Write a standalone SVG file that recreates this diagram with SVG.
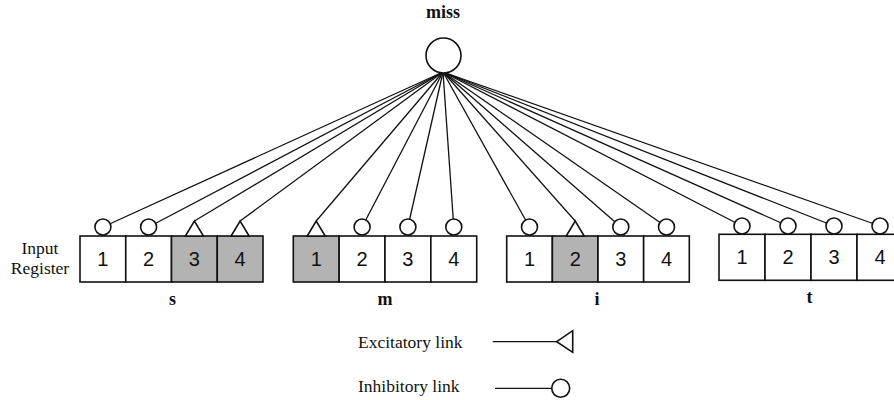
<svg xmlns="http://www.w3.org/2000/svg" width="894" height="400" viewBox="0 0 894 400">
<style>
.bg{fill:#fff}
.cell{fill:#fff;stroke:#111;stroke-width:1.6}
.on{fill:#b3b3b3}
.num{font-family:"Liberation Sans",Arial,sans-serif;font-size:20px;fill:#111;text-anchor:middle}
.lbl{font-family:"Liberation Serif","Times New Roman",serif;font-size:18px;font-weight:bold;fill:#111;text-anchor:middle}
.txt{font-family:"Liberation Serif","Times New Roman",serif;font-size:17.5px;fill:#111}
.ln{stroke:#111;stroke-width:1.3;fill:none}
.inh{fill:#fff;stroke:#111;stroke-width:1.6}
.exc{fill:#fff;stroke:#111;stroke-width:1.6;stroke-linejoin:miter}
</style>
<rect class="bg" x="0" y="0" width="894" height="400"/>

<g id="connectors">
  <line class="ln" x1="443" y1="72" x2="102.9" y2="227"/>
  <line class="ln" x1="443" y1="72" x2="148.6" y2="227"/>
  <line class="ln" x1="443" y1="72" x2="194.4" y2="221"/>
  <line class="ln" x1="443" y1="72" x2="240.1" y2="221"/>
  <line class="ln" x1="443" y1="72" x2="316.2" y2="221"/>
  <line class="ln" x1="443" y1="72" x2="362.1" y2="227"/>
  <line class="ln" x1="443" y1="72" x2="407.9" y2="227"/>
  <line class="ln" x1="443" y1="72" x2="453.8" y2="227"/>
  <line class="ln" x1="443" y1="72" x2="529.5" y2="227"/>
  <line class="ln" x1="443" y1="72" x2="575.2" y2="221"/>
  <line class="ln" x1="443" y1="72" x2="620.8" y2="227"/>
  <line class="ln" x1="443" y1="72" x2="666.5" y2="227"/>
  <line class="ln" x1="443" y1="72" x2="742" y2="226"/>
  <line class="ln" x1="443" y1="72" x2="788" y2="226"/>
  <line class="ln" x1="443" y1="72" x2="834" y2="226"/>
  <line class="ln" x1="443" y1="72" x2="880" y2="226"/>
</g>

<g id="node-miss">
  <text class="lbl" x="443" y="18">miss</text>
  <ellipse cx="443.5" cy="55.5" rx="17.5" ry="17.5" fill="#fff" stroke="#111" stroke-width="1.6"/>
</g>

<g id="input-register-label">
  <text class="txt" x="40" y="254" text-anchor="middle" font-size="18">Input</text>
  <text class="txt" x="40" y="274" text-anchor="middle" font-size="18">Register</text>
</g>

<g id="register-s">
  <rect class="cell" x="80" y="236" width="45.75" height="46"/>
  <rect class="cell" x="125.75" y="236" width="45.75" height="46"/>
  <rect class="cell on" x="171.5" y="236" width="45.75" height="46"/>
  <rect class="cell on" x="217.25" y="236" width="45.75" height="46"/>
  <text class="num" x="102.9" y="266">1</text>
  <text class="num" x="148.6" y="266">2</text>
  <text class="num" x="194.4" y="266">3</text>
  <text class="num" x="240.1" y="266">4</text>
  <circle class="inh" cx="102.9" cy="227" r="8"/>
  <circle class="inh" cx="148.6" cy="227" r="8"/>
  <polygon class="exc" points="185.4,236 203.4,236 194.4,221"/>
  <polygon class="exc" points="231.1,236 249.1,236 240.1,221"/>
  <text class="lbl" x="172.5" y="305">s</text>
</g>

<g id="register-m">
  <rect class="cell on" x="293.3" y="236" width="45.85" height="46"/>
  <rect class="cell" x="339.15" y="236" width="45.85" height="46"/>
  <rect class="cell" x="385" y="236" width="45.85" height="46"/>
  <rect class="cell" x="430.85" y="236" width="45.85" height="46"/>
  <text class="num" x="316.2" y="266">1</text>
  <text class="num" x="362.1" y="266">2</text>
  <text class="num" x="407.9" y="266">3</text>
  <text class="num" x="453.8" y="266">4</text>
  <polygon class="exc" points="307.2,236 325.2,236 316.2,221"/>
  <circle class="inh" cx="362.1" cy="227" r="8"/>
  <circle class="inh" cx="407.9" cy="227" r="8"/>
  <circle class="inh" cx="453.8" cy="227" r="8"/>
  <text class="lbl" x="385" y="305">m</text>
</g>

<g id="register-i">
  <rect class="cell" x="506.7" y="236" width="45.65" height="46"/>
  <rect class="cell on" x="552.35" y="236" width="45.65" height="46"/>
  <rect class="cell" x="598" y="236" width="45.65" height="46"/>
  <rect class="cell" x="643.65" y="236" width="45.65" height="46"/>
  <text class="num" x="529.5" y="266">1</text>
  <text class="num" x="575.2" y="266">2</text>
  <text class="num" x="620.8" y="266">3</text>
  <text class="num" x="666.5" y="266">4</text>
  <circle class="inh" cx="529.5" cy="227" r="8"/>
  <polygon class="exc" points="566.2,236 584.2,236 575.2,221"/>
  <circle class="inh" cx="620.8" cy="227" r="8"/>
  <circle class="inh" cx="666.5" cy="227" r="8"/>
  <text class="lbl" x="597" y="305">i</text>
</g>

<g id="register-t">
  <rect class="cell" x="719" y="234.3" width="46" height="46"/>
  <rect class="cell" x="765" y="234.3" width="46" height="46"/>
  <rect class="cell" x="811" y="234.3" width="46" height="46"/>
  <rect class="cell" x="857" y="234.3" width="46" height="46"/>
  <text class="num" x="742" y="264">1</text>
  <text class="num" x="788" y="264">2</text>
  <text class="num" x="834" y="264">3</text>
  <text class="num" x="880" y="264">4</text>
  <circle class="inh" cx="742" cy="226" r="8"/>
  <circle class="inh" cx="788" cy="226" r="8"/>
  <circle class="inh" cx="834" cy="226" r="8"/>
  <circle class="inh" cx="880" cy="226" r="8"/>
  <text class="lbl" x="809.5" y="303">t</text>
</g>

<g id="legend">
  <text class="txt" x="358" y="348">Excitatory link</text>
  <line class="ln" x1="492.7" y1="341.7" x2="556.7" y2="341.7"/>
  <polygon class="exc" points="556.7,341.7 572.7,330.7 572.7,352.3"/>
  <text class="txt" x="358" y="392">Inhibitory link</text>
  <line class="ln" x1="495" y1="388.3" x2="551.7" y2="388.3"/>
  <circle class="inh" cx="560.7" cy="388.3" r="9"/>
</g>
</svg>
